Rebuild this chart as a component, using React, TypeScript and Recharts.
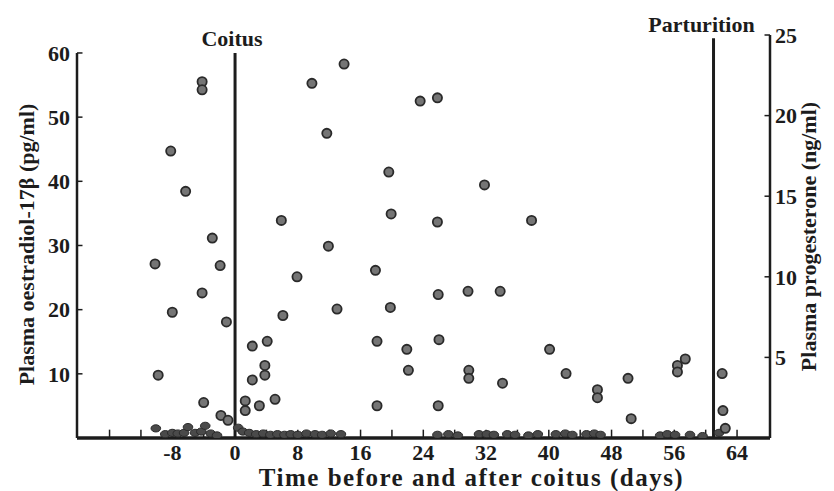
import { ScatterChart, Scatter, XAxis, YAxis, ReferenceLine } from 'recharts'

// progesterone dots (ng/ml, right axis)
const progDays = [
  -4.2, -4.2, 13.9, 9.8, 23.6, 25.8, 11.7, -8.2, 19.6, -6.3, 19.9, 5.9, -2.9, 11.9, 31.8,
  25.8, 37.8, -10.2, -1.9, 7.9, 17.9, -4.2, -8.0, -1.1, 6.1, 13.0, 19.8, 2.2, 4.1, 18.1,
  21.9, -9.8, 2.2, 3.8, 3.8, 22.1, -4.0, 1.3, 1.3, 3.1, 5.1, 18.1, -1.8, -0.9, 25.9,
  29.7, 33.8, 26.0, 40.1, 29.8, 29.8, 42.2, 34.1, 46.2, 46.2, 50.1, 56.4, 56.4, 57.4,
  25.9, 50.5, 62.1, 62.2, 62.5,
]
const progValues = [
  22.1, 21.6, 23.2, 22.0, 20.9, 21.1, 18.9, 17.8, 16.5, 15.3, 13.9, 13.5, 12.4, 11.9, 15.7,
  13.4, 13.5, 10.8, 10.7, 10.0, 10.4, 9.0, 7.8, 7.2, 7.6, 8.0, 8.1, 5.7, 6.0, 6.0,
  5.5, 3.9, 3.6, 4.5, 3.9, 4.2, 2.2, 2.3, 1.7, 2.0, 2.4, 2.0, 1.4, 1.1, 8.9,
  9.1, 9.1, 6.1, 5.5, 4.2, 3.7, 4.0, 3.4, 3.0, 2.5, 3.7, 4.5, 4.1, 4.9,
  2.0, 1.2, 4.0, 1.7, 0.6,
]

// oestradiol near the baseline (pg/ml, left axis)
const oestDays = [
  -10.1, -8.9, -8.0, -7.3, -6.5, -6.0, -5.1, -4.3, -3.8, -3.1, -2.3,
  0.4, 1.0, 1.8, 2.7, 3.6, 4.5, 5.4, 6.3, 7.1, 8.0, 9.1, 10.2, 11.1, 12.2, 13.5,
  25.8, 27.2, 28.4, 31.1, 32.1, 33.0, 34.7, 35.7, 37.4, 38.6, 40.9, 42.1, 43.0,
  44.8, 45.8, 46.6, 54.2, 55.1, 56.1, 58.0, 59.6, 61.7,
]
const oestValues = [
  1.5, 0.6, 0.8, 0.7, 0.8, 1.7, 0.8, 1.0, 1.9, 0.7, 0.4,
  1.6, 1.0, 0.8, 0.6, 0.7, 0.5, 0.6, 0.5, 0.6, 0.5, 0.7, 0.6, 0.5, 0.7, 0.6,
  0.5, 0.6, 0.4, 0.6, 0.6, 0.5, 0.6, 0.5, 0.4, 0.6, 0.6, 0.7, 0.5,
  0.6, 0.7, 0.5, 0.4, 0.6, 0.5, 0.5, 0.3, 0.8,
]

const xTicks = [-8, 0, 8, 16, 24, 32, 40, 48, 56, 64]
const minorTicks = [-16, -12, -8, -4, 0, 4, 8, 12, 16, 20, 24, 28, 32, 36, 40, 44, 48, 52, 56, 60, 64]
const leftTicks = [10, 20, 30, 40, 50, 60]
const rightTicks = [5, 10, 15, 20, 25]
const coitusDay = 0
const parturitionDay = 61

const X_MIN = -20.15
const X_MAX = 68.2
const INK = '#1c1c1c'
const FONT = "'Liberation Serif', 'DejaVu Serif', serif"

const progData = progDays.map((d, i) => ({ day: d, v: progValues[i] }))
const oestData = oestDays.map((d, i) => ({ day: d, v: oestValues[i] }))

const tickStyle = { fill: INK, fontSize: 22, fontWeight: 700, fontFamily: FONT }

function ProgDot(p: any) {
  return <circle cx={p.cx} cy={p.cy} r={4.6} fill="#757575" stroke="#2a2a2a" strokeWidth={1.8} />
}

function OestDot(p: any) {
  return <ellipse cx={p.cx} cy={p.cy} rx={4.8} ry={3.6} fill="#4a4a4a" stroke="#2a2a2a" strokeWidth={1} />
}

// label drawn relative to the element's viewBox
function boxLabel(text: string, fx: number, dx: number, fy: number, dy: number, size: number, angle = 0, spacing = 0) {
  return (props: any) => {
    const vb = props.viewBox
    const x = vb.x + vb.width * fx + dx
    const y = vb.y + vb.height * fy + dy
    return (
      <text
        x={x}
        y={y}
        textAnchor="middle"
        dominantBaseline={angle ? 'central' : 'auto'}
        transform={angle ? `rotate(${angle} ${x} ${y})` : undefined}
        fill={INK}
        fontSize={size}
        fontWeight={700}
        fontFamily={FONT}
        letterSpacing={spacing}
      >
        {text}
      </text>
    )
  }
}

export default function App() {
  return (
    <div style={{ position: 'absolute', left: 0, top: 0, background: '#fff' }}>
      <ScatterChart width={834} height={491} margin={{ top: 35, right: 0, bottom: 0, left: 0 }}>
        <XAxis
          dataKey="day"
          type="number"
          domain={[X_MIN, X_MAX]}
          allowDataOverflow
          ticks={xTicks}
          height={53}
          tickLine={false}
          tickSize={6}
          tickMargin={0}
          axisLine={{ stroke: INK, strokeWidth: 3.5 }}
          tick={tickStyle}
          label={{ content: boxLabel('Time before and after coitus (days)', 0.5, 48, 1, -5, 25, 0, 1.5) }}
        />
        <YAxis
          yAxisId="left"
          dataKey="v"
          type="number"
          domain={[0, 62.8]}
          allowDataOverflow
          ticks={leftTicks}
          width={77}
          tickLine={false}
          axisLine={false}
          tickSize={6}
          tickMargin={1}
          tick={tickStyle}
          label={{ content: boxLabel('Plasma oestradiol-17\u03b2 (pg/ml)', 0, 26, 0.5, 8, 22, -90) }}
        />
        <YAxis
          yAxisId="right"
          orientation="right"
          dataKey="v"
          type="number"
          domain={[0, 25]}
          allowDataOverflow
          ticks={rightTicks}
          width={64}
          tickLine={false}
          axisLine={{ stroke: INK, strokeWidth: 2.5 }}
          tickSize={3}
          tickMargin={2}
          tick={tickStyle}
          label={{ content: boxLabel('Plasma progesterone (ng/ml)', 1, -26, 0.5, 0, 22, -90) }}
        />

        {/* left axis line stops at 60 */}
        <ReferenceLine
          yAxisId="left"
          segment={[{ x: X_MIN, y: 0 }, { x: X_MIN, y: 60 }]}
          stroke={INK}
          strokeWidth={2.5}
          ifOverflow="visible"
        />
        {leftTicks.map((t) => (
          <ReferenceLine
            key={'lt' + t}
            yAxisId="left"
            segment={[{ x: X_MIN, y: t }, { x: X_MIN + 0.7, y: t }]}
            stroke={INK}
            strokeWidth={1.5}
            ifOverflow="visible"
          />
        ))}
        {rightTicks.map((t) => (
          <ReferenceLine
            key={'rt' + t}
            yAxisId="right"
            segment={[{ x: X_MAX - 0.7, y: t }, { x: X_MAX, y: t }]}
            stroke={INK}
            strokeWidth={1.5}
            ifOverflow="visible"
          />
        ))}
        {minorTicks.map((t) => (
          <ReferenceLine
            key={'mt' + t}
            yAxisId="left"
            segment={[{ x: t, y: 0 }, { x: t, y: 1.3 }]}
            stroke={INK}
            strokeWidth={1.5}
            ifOverflow="visible"
          />
        ))}

        <ReferenceLine
          yAxisId="left"
          segment={[{ x: coitusDay, y: 0 }, { x: coitusDay, y: 60 }]}
          stroke={INK}
          strokeWidth={3}
          ifOverflow="visible"
          label={{ content: boxLabel('Coitus', 0, -3, 0, -7, 22) }}
        />
        <ReferenceLine
          yAxisId="right"
          segment={[{ x: parturitionDay, y: 0 }, { x: parturitionDay, y: 24.8 }]}
          stroke={INK}
          strokeWidth={3}
          ifOverflow="visible"
          label={{ content: boxLabel('Parturition', 0, -12, 0, -6, 22) }}
        />

        <Scatter
          yAxisId="left"
          data={oestData}
          shape={OestDot}
          isAnimationActive={false}
        />
        <Scatter
          yAxisId="right"
          data={progData}
          shape={ProgDot}
          isAnimationActive={false}
        />
      </ScatterChart>
    </div>
  )
}
